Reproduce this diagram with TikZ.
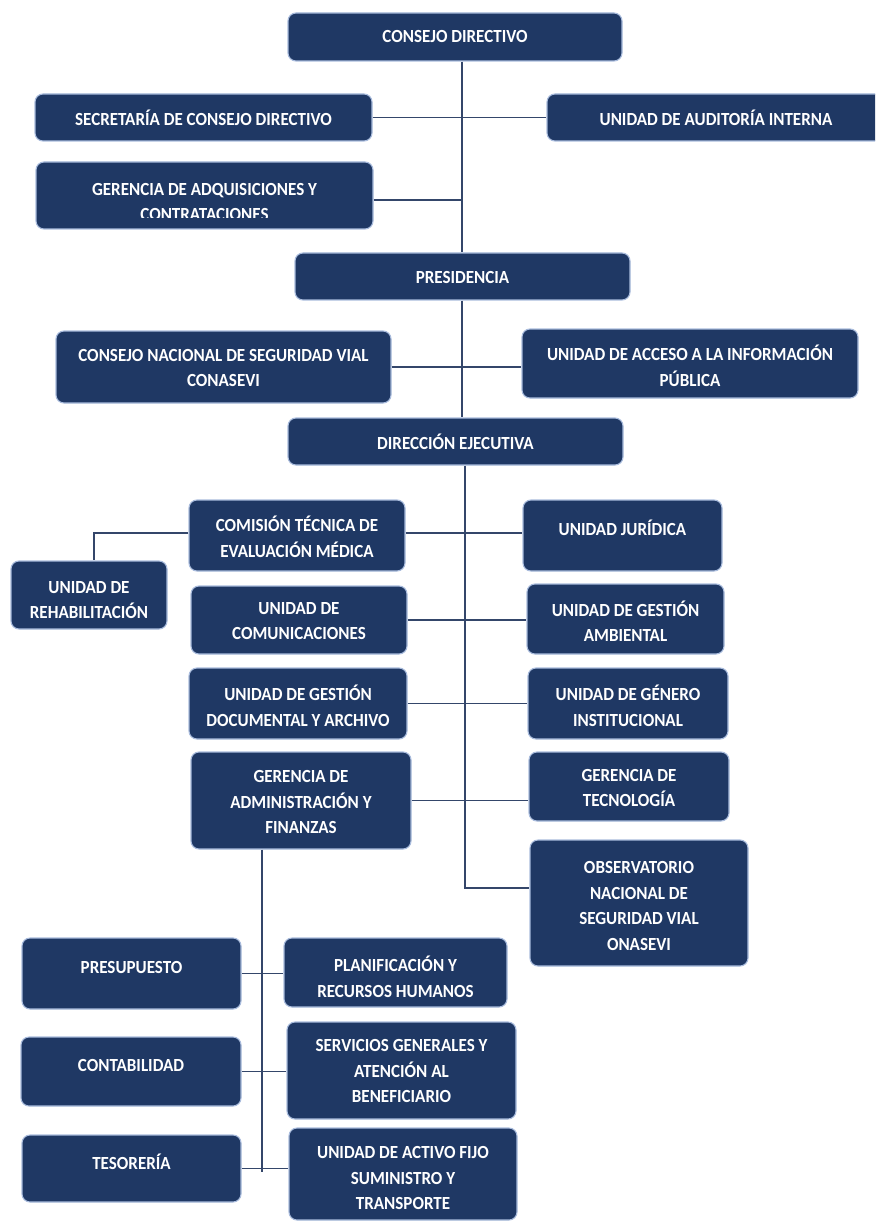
\documentclass[tikz,border=0pt]{standalone}
\usepackage{fontspec}
\newfontfamily\boxfont{Carlito}[FakeStretch=0.92]
\definecolor{boxfill}{HTML}{1F3864}
\definecolor{boxedge}{HTML}{A9BCDD}
\definecolor{linecol}{HTML}{34466A}
\tikzset{
  obox/.style={draw=boxedge, line width=1.1pt, fill=boxfill, rounded corners=8pt, inner sep=0pt},
  otext/.style={text=white, align=center, inner sep=0pt, font=\boxfont\bfseries\fontsize{18.5}{25.5}\selectfont},
  conn/.style={draw=linecol, line width=1.3pt}
}
\newcommand\ob[7]{%
  \node[obox, minimum width={(#4-#2)*1pt}, minimum height={(#5-#3)*1pt}] (#1) at ({(#2+#4)/2},{(#3+#5)/2}) {};
  \node[otext] (#1-t) at ({(#2+#4)/2},#6) {#7};
}
\begin{document}
\begin{tikzpicture}[x=1pt,y=-1pt]
\useasboundingbox (0,0) rectangle (875,1222);
\clip (0,0) rectangle (875,1222);
\fill[white] (0,0) rectangle (875,1222);
\coordinate (m1) at (462,0);
\coordinate (j1) at (462,200);
\coordinate (m2) at (465,888);
\coordinate (rj) at (94,533);
\coordinate (a1) at (262,1172);
\ob{cd}{288}{13}{622}{61}{37}{CONSEJO DIRECTIVO}
\ob{sec}{35}{94}{372}{141}{118}{SECRETARÍA DE CONSEJO DIRECTIVO}
\ob{aud}{547}{94}{885}{141}{118}{UNIDAD DE AUDITORÍA INTERNA}
\node[obox, minimum width=337pt, minimum height=67pt] (gadq) at (204.5,195.5) {};
\begin{scope}
\clip (36,162) rectangle (373,217.5);
\node[otext] (gadq-t) at (204.5,202) {GERENCIA DE ADQUISICIONES Y\\CONTRATACIONES};
\end{scope}
\ob{pres}{295}{253}{630}{300}{277}{PRESIDENCIA}
\ob{cnsv}{56}{331}{391}{403}{368}{CONSEJO NACIONAL DE SEGURIDAD VIAL\\CONASEVI}
\ob{uaip}{522}{329}{858}{398}{366}{UNIDAD DE ACCESO A LA INFORMACIÓN\\PÚBLICA}
\ob{de}{288}{418}{623}{465}{442}{DIRECCIÓN EJECUTIVA}
\ob{ctem}{189}{500}{405}{571}{537}{COMISIÓN TÉCNICA DE\\EVALUACIÓN MÉDICA}
\ob{uj}{523}{500}{722}{571}{528}{UNIDAD JURÍDICA}
\ob{ur}{11}{561}{167}{629}{600}{UNIDAD DE\\REHABILITACIÓN}
\ob{uc}{191}{586}{407}{654}{621}{UNIDAD DE\\COMUNICACIONES}
\ob{uga}{527}{584}{724}{654}{621}{UNIDAD DE GESTIÓN\\AMBIENTAL}
\ob{ugd}{189}{668}{407}{739}{706}{UNIDAD DE GESTIÓN\\DOCUMENTAL Y ARCHIVO}
\ob{ugi}{528}{668}{728}{739}{706}{UNIDAD DE GÉNERO\\INSTITUCIONAL}
\ob{gaf}{191}{752}{411}{849}{802}{GERENCIA DE\\ADMINISTRACIÓN Y\\FINANZAS}
\ob{gt}{529}{752}{729}{821}{788}{GERENCIA DE\\TECNOLOGÍA}
\ob{onsv}{530}{840}{748}{966}{906}{OBSERVATORIO\\NACIONAL DE\\SEGURIDAD VIAL\\ONASEVI}
\ob{presu}{22}{938}{241}{1009}{967}{PRESUPUESTO}
\ob{pyrh}{284}{938}{507}{1007}{977}{PLANIFICACIÓN Y\\RECURSOS HUMANOS}
\ob{cont}{21}{1037}{241}{1106}{1065}{CONTABILIDAD}
\ob{sgab}{287}{1022}{516}{1119}{1071}{SERVICIOS GENERALES Y\\ATENCIÓN AL\\BENEFICIARIO}
\ob{teso}{22}{1135}{241}{1202}{1162}{TESORERÍA}
\ob{uafst}{289}{1128}{517}{1220}{1178}{UNIDAD DE ACTIVO FIJO\\SUMINISTRO Y\\TRANSPORTE}
% connectors
\draw[conn] (cd.south -| m1) -- (pres.north -| m1);
\draw[conn] (pres.south -| m1) -- (de.north -| m1);
\draw[conn] (sec.east) -- (aud.west);
\draw[conn] (gadq.east |- j1) -- (j1);
\draw[conn] (cnsv.east) -- (cnsv.east -| uaip.west);
\draw[conn] (de.south -| m2) -- (m2) -- (m2 -| onsv.west);
\draw[conn] (ctem.east |- rj) -- (rj -| uj.west);
\draw[conn] (ctem.west |- rj) -- (rj) -- (rj |- ur.north);
\draw[conn] (uc.east) -- (uc.east -| uga.west);
\draw[conn] (ugd.east) -- (ugd.east -| ugi.west);
\draw[conn] (gaf.east) -- (gaf.east -| gt.west);
\draw[conn] (gaf.south -| a1) -- (a1);
\draw[conn] (presu.east) -- (presu.east -| pyrh.west);
\draw[conn] (cont.east) -- (cont.east -| sgab.west);
\draw[conn] (teso.east) -- (teso.east -| uafst.west);
\end{tikzpicture}
\end{document}
